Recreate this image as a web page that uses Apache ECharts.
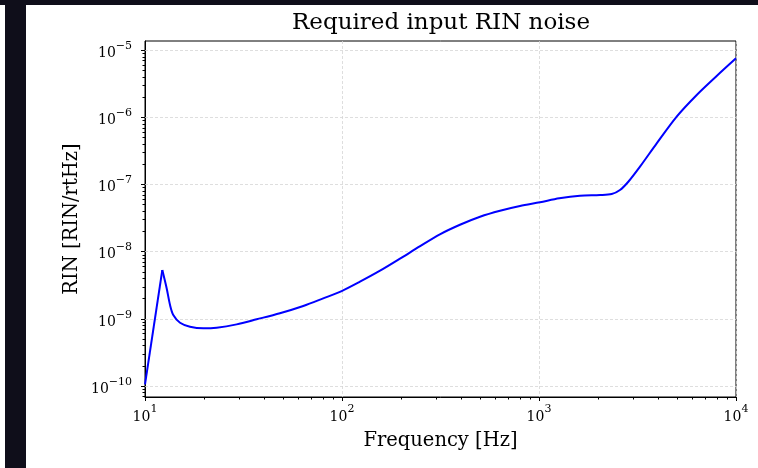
<!DOCTYPE html>
<html>
<head>
<meta charset="utf-8">
<script src="https://cdn.jsdelivr.net/npm/echarts@6/dist/echarts.min.js"></script>
<style>
html,body{margin:0;padding:0;background:#fff;}
#c{width:758px;height:468px;}
</style>
</head>
<body>
<div id="c"></div>
<script>
// Data (frequency in Hz, RIN in 1/rtHz)
var freq = [10, 12.24, 12.88, 13.4, 13.92, 15.06, 16.92, 19.77, 23.1, 29.2, 36.9, 48.4, 63.6, 80.3, 99.6, 123.4, 156, 197, 248, 314, 397, 502, 634, 801, 1012, 1268, 1614, 2040, 2339, 2577, 2840, 3256, 3958, 5000, 6319, 7980, 10000];
var rin = [1.05e-10, 5.28e-9, 2.83e-9, 1.59e-9, 1.13e-9, 8.67e-10, 7.56e-10, 7.15e-10, 7.31e-10, 8.2e-10, 9.75e-10, 1.2e-9, 1.54e-9, 2.0e-9, 2.57e-9, 3.54e-9, 5.16e-9, 7.8e-9, 1.19e-8, 1.8e-8, 2.5e-8, 3.29e-8, 4.04e-8, 4.75e-8, 5.4e-8, 6.18e-8, 6.76e-8, 6.92e-8, 7.16e-8, 8.22e-8, 1.09e-7, 1.83e-7, 4.07e-7, 1.02e-6, 2.14e-6, 4.1e-6, 7.51e-6];
var peakIndex = 1; // sharp resonance peak: rise drawn straight, the rest smoothed
var xTickExps = [1, 2, 3, 4];
var yTickExps = [-10, -9, -8, -7, -6, -5];
var yRangeExp = [-10.168, -4.866];
var xRangeExp = [1, 4];
var titleText = 'Required input RIN noise';
var xLabel = 'Frequency [Hz]';
var yLabel = 'RIN [RIN/rtHz]';

var FONT = 'DejaVu Serif';
var log10 = function (v) { return Math.log(v) / Math.LN10; };
var lineData = freq.map(function (f, i) { return [log10(f), log10(rin[i])]; });
var riseData = lineData.slice(0, peakIndex + 1);
var restData = lineData.slice(peakIndex);

var richLab = {
  b: { fontFamily: FONT, fontSize: 14, color: '#000', verticalAlign: 'bottom', lineHeight: 20 },
  s: { fontFamily: FONT, fontSize: 11, color: '#000', verticalAlign: 'top', lineHeight: 20, padding: [0, 0, 6, 0] }
};

// minor tick positions (log10 of k*10^n)
var xMinor = [], yMinor = [];
for (var n = 1; n < 4; n++) for (var k = 2; k <= 9; k++) xMinor.push(log10(k * Math.pow(10, n)));
for (var m = -11; m < -4; m++) for (var k2 = 2; k2 <= 9; k2++) {
  var e = log10(k2 * Math.pow(10, m));
  if (e > yRangeExp[0] && e < yRangeExp[1]) yMinor.push(e);
}
var decoData = [];
yTickExps.forEach(function (e) { decoData.push([0, e, 'yMajor']); });
yMinor.forEach(function (e) { decoData.push([0, e, 'yMinor']); });
xMinor.forEach(function (e) { decoData.push([e, 0, 'xMinor']); });

var chart = echarts.init(document.getElementById('c'), null, { renderer: 'canvas' });
chart.setOption({
  backgroundColor: '#fff',
  animation: false,
  graphic: [
    { type: 'rect', shape: { x: 0, y: 0, width: 758, height: 5 }, style: { fill: '#0f0e1a' }, z: 100 },
    { type: 'rect', shape: { x: 5, y: 0, width: 21, height: 468 }, style: { fill: '#0f0e1a' }, z: 100 }
  ],
  title: {
    text: titleText,
    left: 436, top: 7, textAlign: 'center',
    textStyle: { fontFamily: FONT, fontSize: 23, fontWeight: 'normal', color: '#000' }
  },
  grid: { left: 145, right: 22, top: 41, bottom: 71, show: true, borderColor: '#000', borderWidth: 1, backgroundColor: 'transparent' },
  xAxis: {
    type: 'value', min: xRangeExp[0], max: xRangeExp[1], interval: 1,
    name: xLabel, nameLocation: 'middle', nameGap: 34,
    nameTextStyle: { fontFamily: FONT, fontSize: 19.5, color: '#000' },
    axisLine: { show: true, lineStyle: { color: '#000', width: 1 } },
    axisTick: { show: true, inside: false, length: 4, lineStyle: { color: '#000', width: 1 } },
    axisLabel: { margin: 7, formatter: function (v) { return '{b|10}{s|' + v + '}'; }, rich: richLab },
    splitLine: { show: true, lineStyle: { color: '#d6d6d6', width: 0.8, type: [3, 2] } }
  },
  yAxis: {
    type: 'value', min: yRangeExp[0], max: yRangeExp[1],
    name: yLabel, nameLocation: 'middle', nameGap: 63,
    nameTextStyle: { fontFamily: FONT, fontSize: 19.5, color: '#000' },
    axisLine: { show: true, lineStyle: { color: '#000', width: 1 } },
    axisTick: { show: false }, axisLabel: { show: false }, splitLine: { show: false }
  },
  series: [
    {
      type: 'custom', silent: true, clip: false, z: 1,
      data: decoData,
      renderItem: function (params, api) {
        var kind = decoData[params.dataIndex][2];
        var children = [];
        if (kind === 'yMajor' || kind === 'yMinor') {
          var pL = api.coord([xRangeExp[0], api.value(1)]);
          var pR = api.coord([xRangeExp[1], api.value(1)]);
          var y = Math.round(pL[1]) + 0.5;
          var len = kind === 'yMajor' ? 4 : 2.5;
          children.push({ type: 'line', shape: { x1: pL[0] - len, y1: y, x2: pL[0], y2: y }, style: { stroke: '#000', lineWidth: 1 } });
          if (kind === 'yMajor') {
            children.push({ type: 'line', shape: { x1: pL[0], y1: y, x2: pR[0], y2: y }, style: { stroke: '#d6d6d6', lineWidth: 0.8, lineDash: [3, 2] }, z2: -1 });
            children.push({ type: 'text', x: pL[0] - 13, y: y, style: { text: '{b|10}{s|\u2212' + Math.abs(api.value(1)) + '}', rich: richLab, align: 'right', verticalAlign: 'middle' } });
          }
        } else {
          var pB = api.coord([api.value(0), yRangeExp[0]]);
          var x = Math.round(pB[0]) + 0.5;
          children.push({ type: 'line', shape: { x1: x, y1: pB[1], x2: x, y2: pB[1] + 2.5 }, style: { stroke: '#000', lineWidth: 1 } });
        }
        return { type: 'group', children: children };
      }
    },
    {
      type: 'line', data: riseData, showSymbol: false, smooth: false, z: 3,
      lineStyle: { color: '#0000ff', width: 2 }
    },
    {
      type: 'line', data: restData, showSymbol: false, smooth: 0.3, z: 3,
      lineStyle: { color: '#0000ff', width: 2 }
    }
  ]
});
</script>
</body>
</html>
